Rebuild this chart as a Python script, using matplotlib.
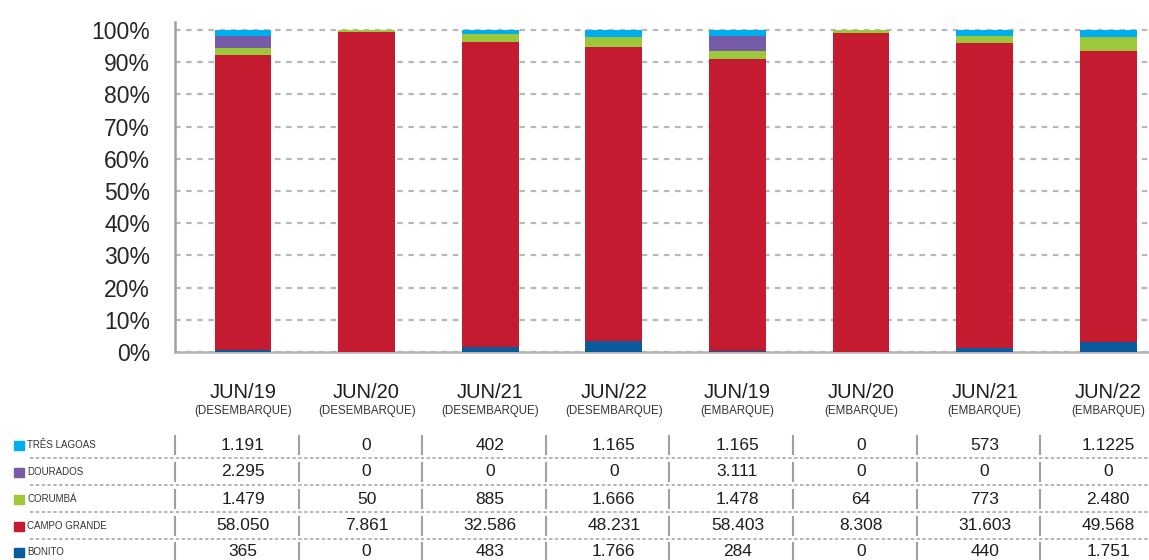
import matplotlib
matplotlib.use("Agg")
from matplotlib import pyplot as plt
from matplotlib import transforms
from matplotlib.lines import Line2D
import numpy as np

plt.rcParams['font.family'] = ['Liberation Sans', 'DejaVu Sans']

months = ['JUN/19', 'JUN/20', 'JUN/21', 'JUN/22', 'JUN/19', 'JUN/20', 'JUN/21', 'JUN/22']
kinds = ['(DESEMBARQUE)'] * 4 + ['(EMBARQUE)'] * 4

# series, bottom of the stack first
bonito = [365, 0, 483, 1766, 284, 0, 440, 1751]
campo_grande = [58050, 7861, 32586, 48231, 58403, 8308, 31603, 49568]
corumba = [1479, 50, 885, 1666, 1478, 64, 773, 2480]
dourados = [2295, 0, 0, 0, 3111, 0, 0, 0]
tres_lagoas = [1191, 0, 402, 1165, 1165, 0, 573, 1122.5]

series_names = ['BONITO', 'CAMPO GRANDE', 'CORUMBÁ', 'DOURADOS', 'TRÊS LAGOAS']
colors = ['#0b5a9b', '#c41b30', '#9dc83b', '#765ba6', '#00adee']
# the reference prints this cell as "1.1225"
cell_text_override = {(4, 7): '1.1225'}

series = np.array([bonito, campo_grande, corumba, dourados, tres_lagoas], dtype=float)
pct = series / series.sum(axis=0) * 100


def fmt(v):
    return f"{int(round(v)):,}".replace(',', '.')


fig = plt.figure(figsize=(11.49, 5.6), dpi=100)
ax = fig.add_axes([175 / 1149, 1 - 352 / 560, 974 / 1149, 330 / 560])

x = np.arange(len(months))
bottom = np.zeros(len(months))
for vals, c in zip(pct, colors):
    ax.bar(x, vals, 0.46, bottom=bottom, color=c, zorder=3)
    bottom += vals

ax.set_xlim(-0.55, 7.33)
ax.set_ylim(0, 102.5)
ax.set_yticks(np.arange(0, 101, 10))
ax.set_yticklabels([f"{t}%" for t in range(0, 101, 10)], fontsize=16.5, color='#262626')
ax.tick_params(axis='y', length=0, pad=18)
ax.set_xticks([])
ax.yaxis.grid(True, linestyle=(0, (2.5, 2.5)), color='#b8b8b8', linewidth=1.6, zorder=0)
for s in ['top', 'right']:
    ax.spines[s].set_visible(False)
ax.spines['left'].set_color('#a0a0a0')
ax.spines['left'].set_linewidth(1.8)
ax.spines['bottom'].set_color('#b4b4b4')
ax.spines['bottom'].set_linewidth(1.8)

# table under the chart
blend = transforms.blended_transform_factory(ax.transData, fig.transFigure)


def fy(px):
    return 1 - px / 560


for i in range(len(months)):
    ax.text(i, fy(393), months[i], transform=blend, ha='center', va='center',
            fontsize=14.5, color='#1e1e1e')
    ax.text(i, fy(411), kinds[i], transform=blend, ha='center', va='center',
            fontsize=8.3, color='#333333')

row_y = [445, 472, 499, 526, 552]
for r, name in enumerate(reversed(series_names)):
    si = len(series_names) - 1 - r
    y = fy(row_y[r])
    fig.patches.append(plt.Rectangle((14 / 1149, y - 4.5 / 560), 10 / 1149, 9 / 560,
                                     transform=fig.transFigure, color=colors[si]))
    fig.text(27 / 1149, y, name, ha='left', va='center', fontsize=7, color='#333333')
    for i in range(len(months)):
        txt = cell_text_override.get((si, i), fmt(series[si, i]))
        ax.text(i, y, txt, transform=blend, ha='center', va='center',
                fontsize=12.5, color='#1e1e1e')
    for i in range(len(months)):
        ax.add_line(Line2D([i - 0.55, i - 0.55], [fy(row_y[r] - 9), fy(row_y[r] + 9)],
                           transform=blend, color='#a0a0a0', linewidth=1.5, clip_on=False))

for ypx in [458, 485, 512, 539]:
    fig.add_artist(Line2D([30 / 1149, 1], [fy(ypx), fy(ypx)], transform=fig.transFigure,
                          color='#a8a8a8', linewidth=1.2, linestyle=(0, (2, 1.5))))

fig.savefig('out.png', dpi=100)
